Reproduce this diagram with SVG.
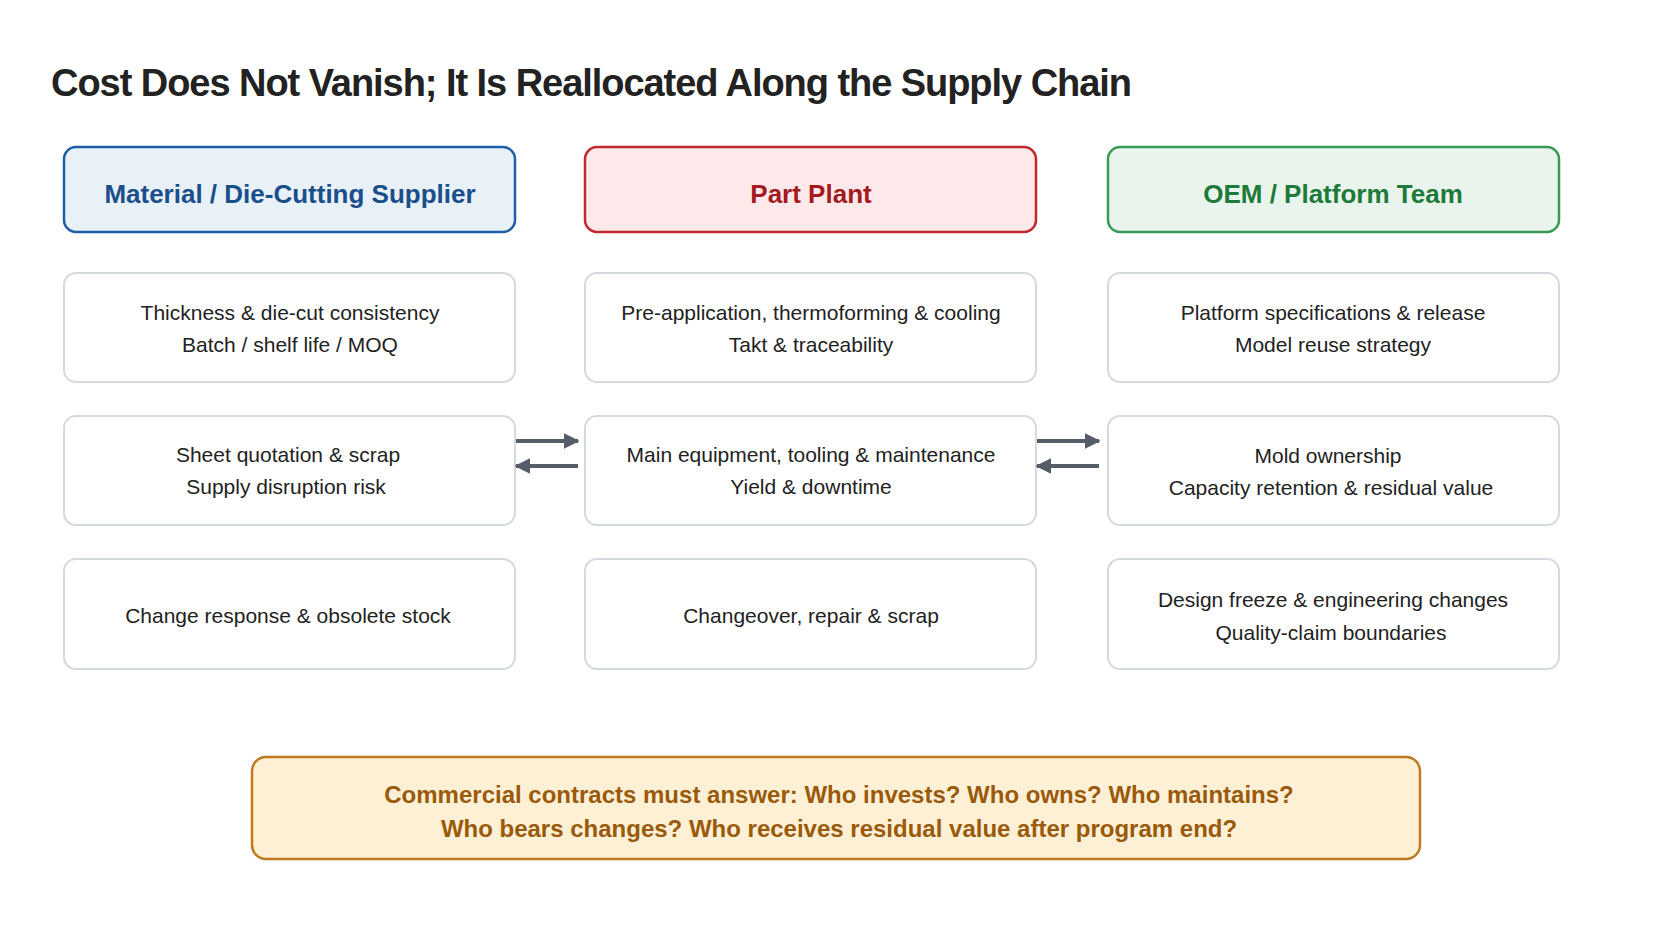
<svg xmlns="http://www.w3.org/2000/svg" width="1672" height="941" viewBox="0 0 1672 941">
<style>
text{font-family:"Liberation Sans",Arial,sans-serif;text-anchor:middle}
.b{fill:#fff;stroke:#d5d9e0;stroke-width:2}
.t{font-size:21px;fill:#222}
.h{font-size:26px;font-weight:bold}
.a{stroke:#555d68;stroke-width:4;fill:none}
</style>
<defs><marker id="m" viewBox="0 0 10 10" refX="9" refY="5" markerWidth="4" markerHeight="4" orient="auto-start-reverse"><path d="M0,0L10,5L0,10z" fill="#555d68"/></marker></defs>
<rect width="1672" height="941" fill="#fff"/>
<text x="51" y="96" style="text-anchor:start;font-size:38px;font-weight:bold;fill:#222" textLength="1081">Cost Does Not Vanish; It Is Reallocated Along the Supply Chain</text>
<g id="h1"><rect x="64" y="147" width="451" height="85" rx="12" fill="#e8f0f8" stroke="#1f5fa8" stroke-width="2.5"/><text class="h" x="290" y="203" fill="#1a4f8a">Material / Die-Cutting Supplier</text></g>
<g id="h2"><rect x="585" y="147" width="451" height="85" rx="12" fill="#fde9ea" stroke="#c0282d" stroke-width="2.5"/><text class="h" x="811" y="203" fill="#a31a1f">Part Plant</text></g>
<g id="h3"><rect x="1108" y="147" width="451" height="85" rx="12" fill="#e9f5ec" stroke="#3a9a55" stroke-width="2.5"/><text class="h" x="1333" y="203" fill="#1e7a3a">OEM / Platform Team</text></g>
<g id="a1"><rect class="b" x="64" y="273" width="451" height="109" rx="12"/><text class="t" x="290" y="320">Thickness &amp; die-cut consistency</text><text class="t" x="290" y="352">Batch / shelf life / MOQ</text></g>
<g id="a2"><rect class="b" x="64" y="416" width="451" height="109" rx="12"/><text class="t" x="288" y="462">Sheet quotation &amp; scrap</text><text class="t" x="286" y="494">Supply disruption risk</text></g>
<g id="a3"><rect class="b" x="64" y="559" width="451" height="110" rx="12"/><text class="t" x="288" y="623">Change response &amp; obsolete stock</text></g>
<g id="b1"><rect class="b" x="585" y="273" width="451" height="109" rx="12"/><text class="t" x="811" y="320">Pre-application, thermoforming &amp; cooling</text><text class="t" x="811" y="352">Takt &amp; traceability</text></g>
<g id="b2"><rect class="b" x="585" y="416" width="451" height="109" rx="12"/><text class="t" x="811" y="462">Main equipment, tooling &amp; maintenance</text><text class="t" x="811" y="494">Yield &amp; downtime</text></g>
<g id="b3"><rect class="b" x="585" y="559" width="451" height="110" rx="12"/><text class="t" x="811" y="623">Changeover, repair &amp; scrap</text></g>
<g id="c1"><rect class="b" x="1108" y="273" width="451" height="109" rx="12"/><text class="t" x="1333" y="320">Platform specifications &amp; release</text><text class="t" x="1333" y="352">Model reuse strategy</text></g>
<g id="c2"><rect class="b" x="1108" y="416" width="451" height="109" rx="12"/><text class="t" x="1328" y="463">Mold ownership</text><text class="t" x="1331" y="495">Capacity retention &amp; residual value</text></g>
<g id="c3"><rect class="b" x="1108" y="559" width="451" height="110" rx="12"/><text class="t" x="1333" y="607">Design freeze &amp; engineering changes</text><text class="t" x="1331" y="640">Quality-claim boundaries</text></g>
<g id="connectors">
<line class="a" x1="516" y1="441" x2="578" y2="441" marker-end="url(#m)"/>
<line class="a" x1="578" y1="466" x2="516" y2="466" marker-end="url(#m)"/>
<line class="a" x1="1037" y1="441" x2="1099" y2="441" marker-end="url(#m)"/>
<line class="a" x1="1099" y1="466" x2="1037" y2="466" marker-end="url(#m)"/>
</g>
<g id="note"><rect x="252" y="757" width="1168" height="102" rx="14" fill="#fdf0d5" stroke="#c07a20" stroke-width="2.5"/>
<text x="839" y="803" style="font-size:24px;font-weight:bold;fill:#9a5a0a">Commercial contracts must answer: Who invests? Who owns? Who maintains?</text>
<text x="839" y="837" style="font-size:24px;font-weight:bold;fill:#9a5a0a">Who bears changes? Who receives residual value after program end?</text></g>
</svg>
